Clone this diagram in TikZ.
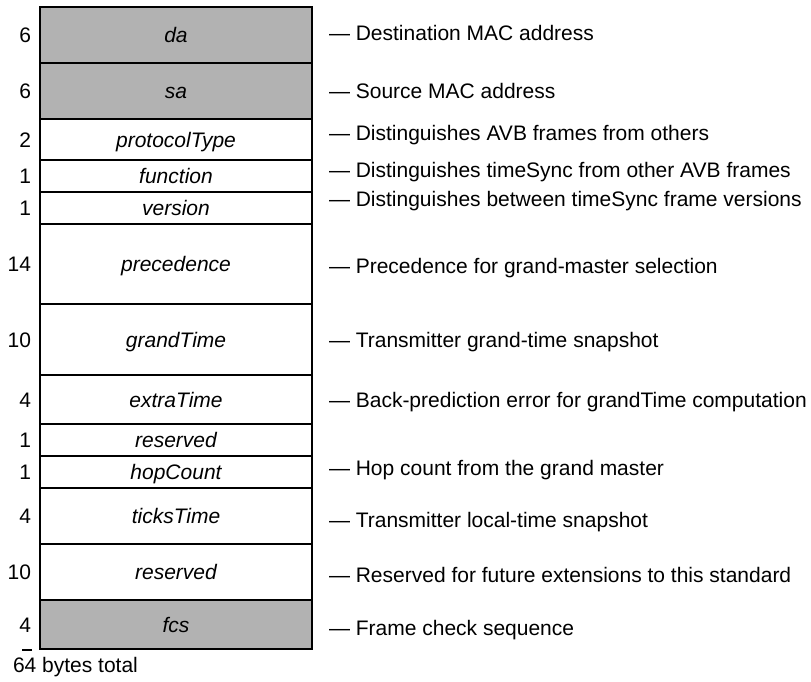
\documentclass[tikz,border=0pt]{standalone}
\usepackage{fontspec}
\setmainfont{Liberation Sans}
\usetikzlibrary{positioning}
\definecolor{fieldgray}{RGB}{178,178,178}

\begin{document}
\begin{tikzpicture}[x=1pt,y=-1pt,line width=2pt,font=\fontsize{21}{25}\selectfont,
  field/.style={draw,inner sep=0pt,minimum width=272pt,text height=15pt,text depth=0pt,font=\fontsize{21}{25}\selectfont\itshape},
  size/.style={inner sep=0pt,text height=15pt,text depth=0pt},
  note/.style={inner sep=0pt,text height=15pt,text depth=0pt}]
\useasboundingbox (0,0) rectangle (811,681);
\foreach \n/\t/\b/\lab/\num/\col in {da/7/63/da/6/fieldgray, sa/63/119/sa/6/fieldgray, ptype/119/160/protocolType/2/white, func/160/192/function/1/white, ver/192/224/version/1/white, prec/224/304/precedence/14/white, grand/304/375/grandTime/10/white, extra/375/424/extraTime/4/white, resa/424/456/reserved/1/white, hop/456/488/hopCount/1/white, ticks/488/544/ticksTime/4/white, resb/544/600/reserved/10/white, fcs/600/649/fcs/4/fieldgray}
{ \node[field,fill=\col,minimum height={(\b-\t)*1pt}] (\n) at (176,{(\t+\b)/2}) {\lab};
  \node[size,left=7pt of \n] (n\n) {\num}; }
\foreach \n/\dy/\txt in {da/2/Destination MAC address, sa/0/Source MAC address, ptype/7/Distinguishes AVB frames from others, func/6/Distinguishes timeSync from other AVB frames, ver/9/Distinguishes between timeSync frame versions, prec/-2/Precedence for grand-master selection, grand/0/Transmitter grand-time snapshot, extra/0/Back-prediction error for grandTime computation, hop/4/Hop count from the grand master, ticks/-4/Transmitter local-time snapshot, resb/-3/Reserved for future extensions to this standard, fcs/-3/Frame check sequence}
  \node[note,right=15pt of \n,yshift=\dy pt] (d\n) {— \txt};
\draw (nfcs.east |- fcs.south) -- ++(-10,0);
\node[note,anchor=west] (total) at (12,665) {64 bytes total};
\end{tikzpicture}
\end{document}
